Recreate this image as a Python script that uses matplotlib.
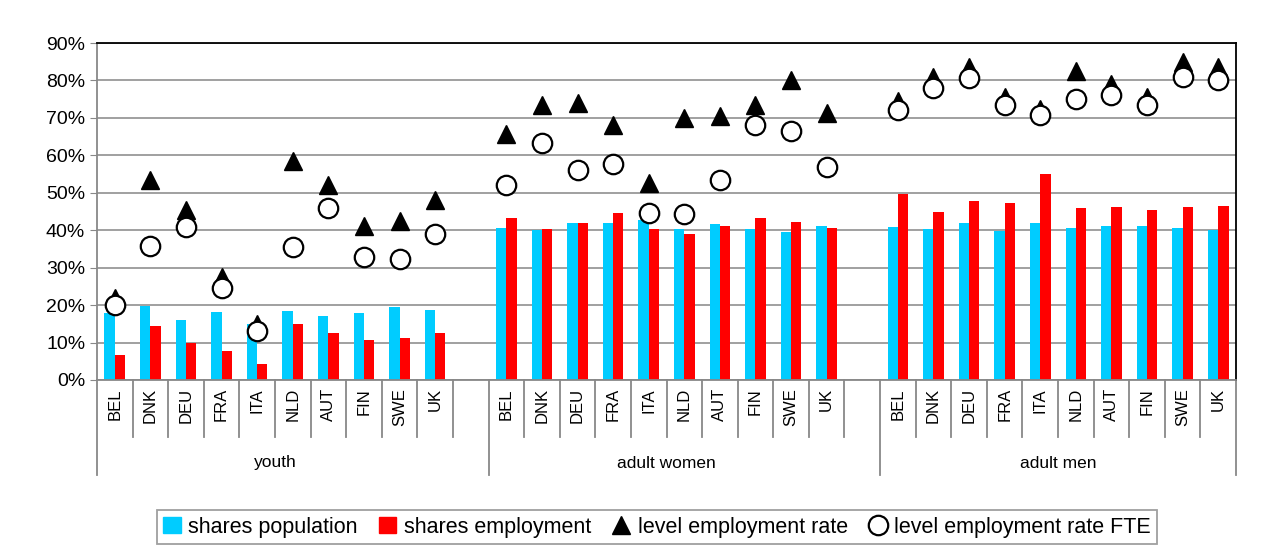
import matplotlib
matplotlib.use("Agg")
import matplotlib.pyplot as plt
from matplotlib.lines import Line2D
from matplotlib.patches import Patch
import numpy as np

plt.rcParams['font.family'] = ['Liberation Sans', 'DejaVu Sans']

countries = ["BEL", "DNK", "DEU", "FRA", "ITA", "NLD", "AUT", "FIN", "SWE", "UK"]
groups = ["youth", "adult women", "adult men"]

pop_youth = [18.0, 19.8, 16.0, 18.2, 15.0, 18.5, 17.0, 18.0, 19.6, 18.8]
emp_youth = [6.7, 14.5, 10.0, 7.8, 4.3, 15.0, 12.5, 10.8, 11.2, 12.6]
rate_youth = [22.0, 53.5, 45.5, 27.5, 15.0, 58.5, 52.0, 41.0, 42.5, 48.0]
fte_youth = [20.0, 35.8, 40.8, 24.5, 13.2, 35.5, 46.0, 32.8, 32.2, 39.0]

pop_women = [40.5, 40.0, 41.8, 41.8, 42.6, 40.4, 41.6, 40.4, 39.6, 41.0]
emp_women = [43.2, 40.2, 42.0, 44.5, 40.4, 38.9, 41.2, 43.2, 42.2, 40.6]
rate_women = [65.8, 73.5, 74.0, 68.0, 52.5, 70.0, 70.5, 73.5, 80.0, 71.4]
fte_women = [52.2, 63.2, 56.2, 57.6, 44.6, 44.2, 53.4, 68.0, 66.4, 57.0]

pop_men = [40.9, 40.2, 41.8, 39.8, 41.8, 40.6, 41.1, 41.2, 40.6, 40.1]
emp_men = [49.8, 45.0, 47.8, 47.3, 55.0, 45.9, 46.1, 45.5, 46.3, 46.4]
rate_men = [74.5, 81.0, 83.5, 75.5, 72.5, 82.5, 79.0, 75.5, 85.0, 83.5]
fte_men = [72.2, 78.0, 80.6, 73.4, 70.8, 75.0, 76.0, 73.4, 80.8, 80.0]

pop = [pop_youth, pop_women, pop_men]
emp = [emp_youth, emp_women, emp_men]
rate = [rate_youth, rate_women, rate_men]
fte = [fte_youth, fte_women, fte_men]

fig = plt.figure(figsize=(12.63, 5.45), dpi=100)
ax = fig.add_axes([97/1263, 1-380/545, (1236-97)/1263, (380-43)/545])

nslots = 32
bw = 0.29
for g in range(3):
    x = np.arange(10) + g * 11
    ax.bar(x - bw/2, pop[g], bw, color="#00CCFF", zorder=2)
    ax.bar(x + bw/2, emp[g], bw, color="#FF0000", zorder=2)
    ax.plot(x, rate[g], ls="none", marker="^", ms=13, color="black", zorder=3)
    ax.plot(x, fte[g], ls="none", marker="o", ms=14, mfc="white", mec="black", mew=1.6, zorder=4)

ax.set_xlim(-0.5, nslots - 0.5)
ax.set_ylim(0, 90)
ax.set_yticks(range(0, 91, 10))
ax.set_yticklabels([f"{v}%" for v in range(0, 91, 10)], fontsize=14)
ax.yaxis.grid(True, color="#999999", lw=1.3, zorder=0)
ax.set_axisbelow(True)
ax.tick_params(axis="y", length=5, color="#888888")
ax.set_xticks([])
for s in ["left", "bottom"]:
    ax.spines[s].set_color("#888888")
    ax.spines[s].set_linewidth(1.3)
for s in ["top", "right"]:
    ax.spines[s].set_color("black")
    ax.spines[s].set_linewidth(1.3)

trans = ax.get_xaxis_transform()
def yfrac(px):
    return -(px - 380) / 337

for i in range(nslots + 1):
    xb = i - 0.5
    long_ = i in (0, 11, 22, 32)
    ybot = yfrac(475) if long_ else yfrac(437)
    ax.plot([xb, xb], [0, ybot], transform=trans, color="#888888", lw=1.3, clip_on=False)

for g in range(3):
    for k, c in enumerate(countries):
        ax.text(g * 11 + k, yfrac(388), c, transform=trans, rotation=90,
                ha="center", va="top", fontsize=12)
    ax.text(g * 11 + 4.5, yfrac(463), groups[g], transform=trans,
            ha="center", va="center", fontsize=12.5)

handles = [Patch(color="#00CCFF"), Patch(color="#FF0000"),
           Line2D([], [], ls="none", marker="^", ms=13, color="black"),
           Line2D([], [], ls="none", marker="o", ms=14, mfc="white", mec="black", mew=1.6)]
labels = ["shares population", "shares employment", "level employment rate", "level employment rate FTE"]
leg = fig.legend(handles, labels, loc="center", bbox_to_anchor=(657/1263, 1-527/545),
                 ncol=4, fontsize=15.5, frameon=True, fancybox=False, edgecolor="#888888",
                 handlelength=0.8, handletextpad=0.35, columnspacing=1.0, borderpad=0.3)
leg.get_frame().set_linewidth(1.3)

fig.savefig("out.png", dpi=100)
